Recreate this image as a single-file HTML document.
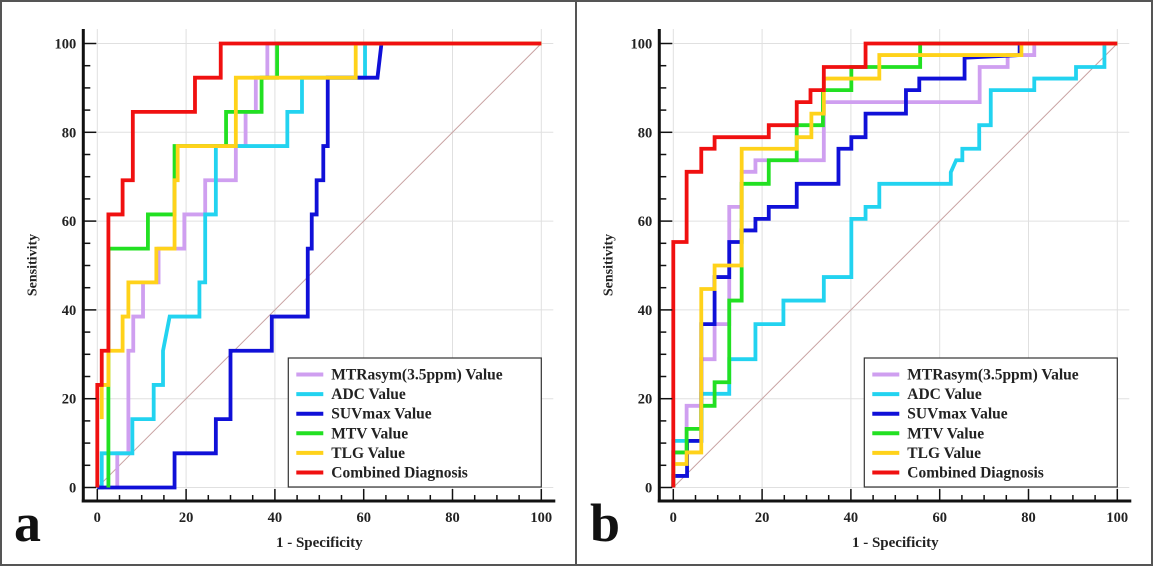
<!DOCTYPE html>
<html><head><meta charset="utf-8"><style>
html,body{margin:0;padding:0;background:#fff;}
svg{display:block;font-family:"Liberation Serif",serif;font-weight:bold;}
</style></head><body>
<svg id="chart" width="1153" height="566" viewBox="0 0 1153 566" xmlns="http://www.w3.org/2000/svg">
<rect x="1" y="1" width="1151" height="564" fill="#fff" stroke="#555" stroke-width="2"/>
<line x1="576" y1="0" x2="576" y2="566" stroke="#555" stroke-width="2"/>
</svg>
<script>
const ticks = [0,20,40,60,80,100];
const seriesNames = ["MTRasym(3.5ppm) Value","ADC Value","SUVmax Value","MTV Value","TLG Value","Combined Diagnosis"];
const seriesColors = ["#cf9ff0","#22d3f0","#1010d8","#22e022","#ffd21a","#f01010"];
// Panel a curves: [fpr, sensitivity] vertices
const aMTR = [[4.5,0],[4.5,7.7],[7,7.7],[7,30.8],[8.1,30.8],[8.1,38.5],[10.3,38.5],[10.3,46.2],[13.8,46.2],[13.8,53.8],[19.6,53.8],[19.6,61.5],[24.3,61.5],[24.3,69.2],[31.2,69.2],[31.2,76.9],[33.4,76.9],[33.4,84.6],[35.7,84.6],[35.7,92.3],[38.3,92.3],[38.3,100],[100,100]];
const aADC = [[0,0],[1,0],[1,7.7],[7.9,7.7],[7.9,15.4],[12.7,15.4],[12.7,23.1],[14.8,23.1],[14.8,30.8],[16.3,38.5],[23,38.5],[23,46.2],[24.3,46.2],[24.3,61.5],[26.7,61.5],[26.7,76.9],[42.8,76.9],[42.8,84.6],[46.1,84.6],[46.1,92.3],[60.3,92.3],[60.3,100],[100,100]];
const aSUV = [[0,0],[17.4,0],[17.4,7.7],[26.7,7.7],[26.7,15.4],[30,15.4],[30,30.8],[39.3,30.8],[39.3,38.5],[47.4,38.5],[47.4,53.8],[48.3,53.8],[48.3,61.5],[49.4,61.5],[49.4,69.2],[50.9,69.2],[50.9,76.9],[51.9,76.9],[51.9,92.3],[63.1,92.3],[64,100],[100,100]];
const aMTV = [[2.5,0],[2.5,53.8],[11.4,53.8],[11.4,61.5],[17.4,61.5],[17.4,76.9],[29,76.9],[29,84.6],[37,84.6],[37,92.3],[40.5,92.3],[40.5,100],[100,100]];
const aTLG = [[1,15.4],[1,23.1],[2.5,23.1],[2.5,30.8],[5.7,30.8],[5.7,38.5],[7,38.5],[7,46.2],[13.3,46.2],[13.3,53.8],[17.4,53.8],[17.4,69.2],[18.1,69.2],[18.1,76.9],[31.2,76.9],[31.2,92.3],[58.2,92.3],[58.2,100],[100,100]];
const aComb = [[0,0],[0,23.1],[1,23.1],[1,30.8],[2.5,30.8],[2.5,61.5],[5.7,61.5],[5.7,69.2],[8,69.2],[8,84.6],[22,84.6],[22,92.3],[27.8,92.3],[27.8,100],[100,100]];
// Panel b curves
const bMTR = [[0,0],[0,7.9],[3,7.9],[3,18.4],[6.3,18.4],[6.3,28.9],[9.3,28.9],[9.3,36.8],[12.6,36.8],[12.6,63.2],[15.4,63.2],[15.4,71.1],[18.5,71.1],[18.5,73.7],[33.9,73.7],[33.9,86.8],[69,86.8],[69,94.7],[75.3,94.7],[75.3,97.4],[81.3,97.4],[81.3,100],[100,100]];
const bADC = [[0,0],[0,10.5],[3,10.5],[6.3,10.5],[6.3,21.1],[12.6,21.1],[12.6,28.9],[18.5,28.9],[18.5,36.8],[24.8,36.8],[24.8,42.1],[33.9,42.1],[33.9,47.4],[40.1,47.4],[40.1,60.5],[43.3,60.5],[43.3,63.2],[46.4,63.2],[46.4,68.4],[62.5,68.4],[62.5,71],[63.7,73.7],[65.1,73.7],[65.1,76.3],[68.9,76.3],[68.9,81.6],[71.5,81.6],[71.5,89.5],[81.3,89.5],[81.3,92.1],[90.7,92.1],[90.7,94.7],[97.1,94.7],[97.1,100],[100,100]];
const bSUV = [[0,0],[0,2.6],[3.1,2.6],[3.1,10.5],[6.3,10.5],[6.3,36.8],[9.3,36.8],[9.3,47.4],[12.6,47.4],[12.6,55.3],[15.4,55.3],[15.4,57.9],[18.5,57.9],[18.5,60.5],[21.5,60.5],[21.5,63.2],[27.8,63.2],[27.8,68.4],[37.2,68.4],[37.2,76.3],[40.1,76.3],[40.1,78.9],[43.3,78.9],[43.3,84.2],[52.4,84.2],[52.4,89.5],[55.4,89.5],[55.4,92.1],[65.6,92.1],[65.6,96.8],[78,97.4],[78,100],[100,100]];
const bMTV = [[0,0],[0,7.9],[3,7.9],[3,13.2],[6.3,13.2],[6.3,18.4],[9.3,18.4],[9.3,23.7],[12.6,23.7],[12.6,42.1],[15.4,42.1],[15.4,68.4],[21.5,68.4],[21.5,73.7],[27.8,73.7],[27.8,81.6],[33.7,81.6],[33.7,89.5],[40.1,89.5],[40.1,94.7],[55.6,94.7],[55.6,100],[100,100]];
const bTLG = [[0,0],[0,5.3],[3,5.3],[3,7.9],[6.3,7.9],[6.3,44.7],[9.3,44.7],[9.3,50],[15.4,50],[15.4,76.3],[27.8,76.3],[27.8,78.9],[31.1,78.9],[31.1,84.2],[33.9,84.2],[33.9,92.1],[46.4,92.1],[46.4,97.4],[78.4,97.4],[78.4,100],[100,100]];
const bComb = [[0,0],[0,55.3],[3,55.3],[3,71.1],[6.3,71.1],[6.3,76.3],[9.3,76.3],[9.3,78.9],[21.5,78.9],[21.5,81.6],[27.8,81.6],[27.8,86.8],[30.9,86.8],[30.9,89.5],[33.9,89.5],[33.9,94.7],[43.3,94.7],[43.3,100],[100,100]];

const NS = "http://www.w3.org/2000/svg";
const svg = document.getElementById("chart");
function mk(tag, attrs, parent, text){
  const e = document.createElementNS(NS, tag);
  for (const k in attrs) e.setAttribute(k, attrs[k]);
  if (text !== undefined) e.textContent = text;
  parent.appendChild(e);
  return e;
}
function panel(id, x0, letter, letterX, data){
  const y0 = 487.5, w = 444, h = 444;
  const sx = v => x0 + v / 100 * w;
  const sy = v => y0 - v / 100 * h;
  const g = mk("g", {}, svg);
  
  
  const axL = x0 - 14, axB = 501;
  ticks.forEach(t => {
    const gv = mk("line", {x1: sx(t), y1: 29, x2: sx(t), y2: axB, stroke: "#e0e0e0", "stroke-width": 1}, g);
    
    
    const gh = mk("line", {x1: axL, y1: sy(t), x2: x0 + w + 12, y2: sy(t), stroke: "#e0e0e0", "stroke-width": 1}, g);
    
    
  });
  const dg = mk("line", {x1: sx(0), y1: sy(0), x2: sx(100), y2: sy(100), stroke: "#c8a2a2", "stroke-width": 1}, g);
  
  
  data.forEach((pts, i) => {
    const p = mk("polyline", {points: pts.map(q => sx(q[0]) + "," + sy(q[1])).join(" "), fill: "none", stroke: seriesColors[i], "stroke-width": 3.8, "stroke-linejoin": "miter"}, g);
    
    
  });
  const ya = mk("line", {x1: axL, y1: 29, x2: axL, y2: axB + 1.5, stroke: "#111", "stroke-width": 3}, g);
  
  
  const xa = mk("line", {x1: axL - 1.5, y1: axB, x2: x0 + w + 14, y2: axB, stroke: "#111", "stroke-width": 3}, g);
  
  
  for (let v = 0; v <= 100; v += 5) {
    const major = v % 20 === 0;
    const tx = mk("line", {x1: sx(v), y1: axB, x2: sx(v), y2: axB - (major ? 12 : 6), stroke: "#111", "stroke-width": 1.5}, g);
    
    
    const ty = mk("line", {x1: axL, y1: sy(v), x2: axL + (major ? 13 : 7), y2: sy(v), stroke: "#111", "stroke-width": 1.5}, g);
    
    
  }
  ticks.forEach(t => {
    const lx = mk("text", {x: sx(t), y: 522, "text-anchor": "middle", "font-size": 14.5, fill: "#222"}, g, String(t));
    
    
    const ly = mk("text", {x: axL - 7, y: sy(t) + 5, "text-anchor": "end", "font-size": 14.5, fill: "#222"}, g, String(t));
    
    
  });
  const xt = mk("text", {x: sx(50), y: 547, "text-anchor": "middle", "font-size": 15, fill: "#222"}, g, "1 - Specificity");
  
  
  const yt = mk("text", {x: 0, y: 0, "text-anchor": "middle", "font-size": 14, fill: "#222", transform: "translate(" + (x0 - 61) + ",265) rotate(-90)"}, g, "Sensitivity");
  
  
  const pl = mk("text", {x: letterX, y: 541, "font-size": 54, fill: "#111"}, g, letter);
  
  
  const lgx = x0 + 191, lgy = 358;
  const lg = mk("g", {}, g);
  
  
  mk("rect", {x: lgx, y: lgy, width: 253, height: 129, fill: "#fff", stroke: "#333", "stroke-width": 1.2}, lg);
  seriesNames.forEach((n, i) => {
    const yy = lgy + 16.5 + i * 19.6;
    const sw = mk("line", {x1: lgx + 8, y1: yy, x2: lgx + 35, y2: yy, stroke: seriesColors[i], "stroke-width": 4}, lg);
    
    
    const tx = mk("text", {x: lgx + 43, y: yy + 5, "font-size": 15.5, fill: "#222"}, lg, n);
    
    
  });
}
panel("a", 97.3, "a", 14, [aMTR, aADC, aSUV, aMTV, aTLG, aComb]);
panel("b", 673.3, "b", 590, [bMTR, bADC, bSUV, bMTV, bTLG, bComb]);
</script>
</body></html>
